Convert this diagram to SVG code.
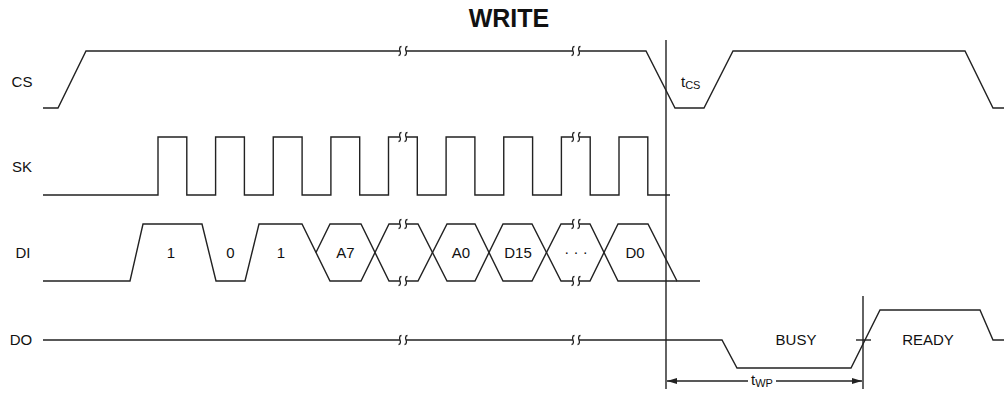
<svg xmlns="http://www.w3.org/2000/svg" xmlns:xlink="http://www.w3.org/1999/xlink" width="1004" height="397" viewBox="0 0 1004 397">
<style>
.w{fill:none;stroke:#222;stroke-width:1.4;stroke-linejoin:miter}
.t{font-family:"Liberation Sans",Arial,sans-serif;font-size:15px;fill:#111}
.lab{text-anchor:middle}
.s{font-size:11px}
</style>
<defs>
<g id="brk" fill="none" stroke="#222" stroke-width="1.3">
<path d="M-1.5,-4.5 C-4,-4.5 -3.5,-1 -3,0 S-2,4.5 -4.5,4.5"/>
<path d="M4.5,-4.5 C2,-4.5 2.5,-1 3,0 S4,4.5 1.5,4.5"/>
</g>
<marker id="ah" viewBox="0 0 10 6" refX="10" refY="3" markerWidth="10" markerHeight="6" markerUnits="userSpaceOnUse" orient="auto-start-reverse">
<path d="M0,0 L10,3 L0,6 Z" fill="#222"/>
</marker>
</defs>
<rect width="1004" height="397" fill="#fff"/>
<text x="509" y="27" class="t" style="font-size:25px;font-weight:bold" text-anchor="middle">WRITE</text>
<g id="labels" class="t">
<text x="22" y="87" class="lab">CS</text>
<text x="22" y="172" class="lab">SK</text>
<text x="23" y="258" class="lab">DI</text>
<text x="21" y="345" class="lab">DO</text>
</g>
<g id="cs">
<path class="w" d="M43,108 H58 L86,51 H400 M406,51 H573 M579,51 H646 L675,108 H704 L733,51 H965 L993,108 H1004"/>
<use xlink:href="#brk" x="403" y="51"/>
<use xlink:href="#brk" x="576" y="51"/>
<text x="681" y="87" class="t">t<tspan class="s" dy="2">CS</tspan></text>
</g>
<g id="sk">
<path class="w" d="M43,195 H158 V137 H186.8 V195 H215.6 V137 H244.4 V195 H273.25 V137 H302.1 V195 H330.9 V137 H359.7 V195 H388.5 V137 H400 M406,137 H417.3 V195 H446.1 V137 H474.9 V195 H503.75 V137 H532.6 V195 H561.4 V137 H573 M579,137 H590.2 V195 H619 V137 H647.8 V195 H670"/>
<use xlink:href="#brk" x="403" y="137"/>
<use xlink:href="#brk" x="576" y="137"/>
</g>
<g id="di">
<path class="w" d="M43,281 H130 L143,224 H202 L216,281 H245 L259,224 H302 L330,281 H361 L389,224 H400 M406,224 H418 L447,281 H475 L503,224 H532 L561,281 H573 M579,281 H590 L618,224 H648 L677,281 H700"/>
<path class="w" d="M316,252.5 L330,224 H361 L389,281 H400 M406,281 H418 L447,224 H475 L503,281 H532 L561,224 H573 M579,224 H590 L618,281 H677"/>
<use xlink:href="#brk" x="403" y="224"/>
<use xlink:href="#brk" x="403" y="281"/>
<use xlink:href="#brk" x="576" y="224"/>
<use xlink:href="#brk" x="576" y="281"/>
<g class="t" text-anchor="middle">
<text x="171" y="258">1</text>
<text x="230.5" y="258">0</text>
<text x="281" y="258">1</text>
<text x="345.5" y="258">A7</text>
<text x="461" y="258">A0</text>
<text x="518" y="258">D15</text>
<text x="576" y="257">· · ·</text>
<text x="635" y="258">D0</text>
</g>
</g>
<g id="do">
<path class="w" d="M43,340 H400 M406,340 H573 M579,340 H722 L737,368 H851 L880,310 H980 L993,340 H1004"/>
<use xlink:href="#brk" x="403" y="340"/>
<use xlink:href="#brk" x="576" y="340"/>
<path class="w" d="M856,340 H871"/>
<g class="t" text-anchor="middle">
<text x="796" y="345">BUSY</text>
<text x="928" y="345">READY</text>
</g>
</g>
<g id="connectors">
<path class="w" d="M666,40 V389"/>
<path class="w" d="M863,296 V389"/>
<path class="w" d="M667,381 H748" marker-start="url(#ah)"/>
<path class="w" d="M776,381 H862" marker-end="url(#ah)"/>
<text x="751" y="385" class="t">t<tspan class="s" dy="2">WP</tspan></text>
</g>
</svg>
